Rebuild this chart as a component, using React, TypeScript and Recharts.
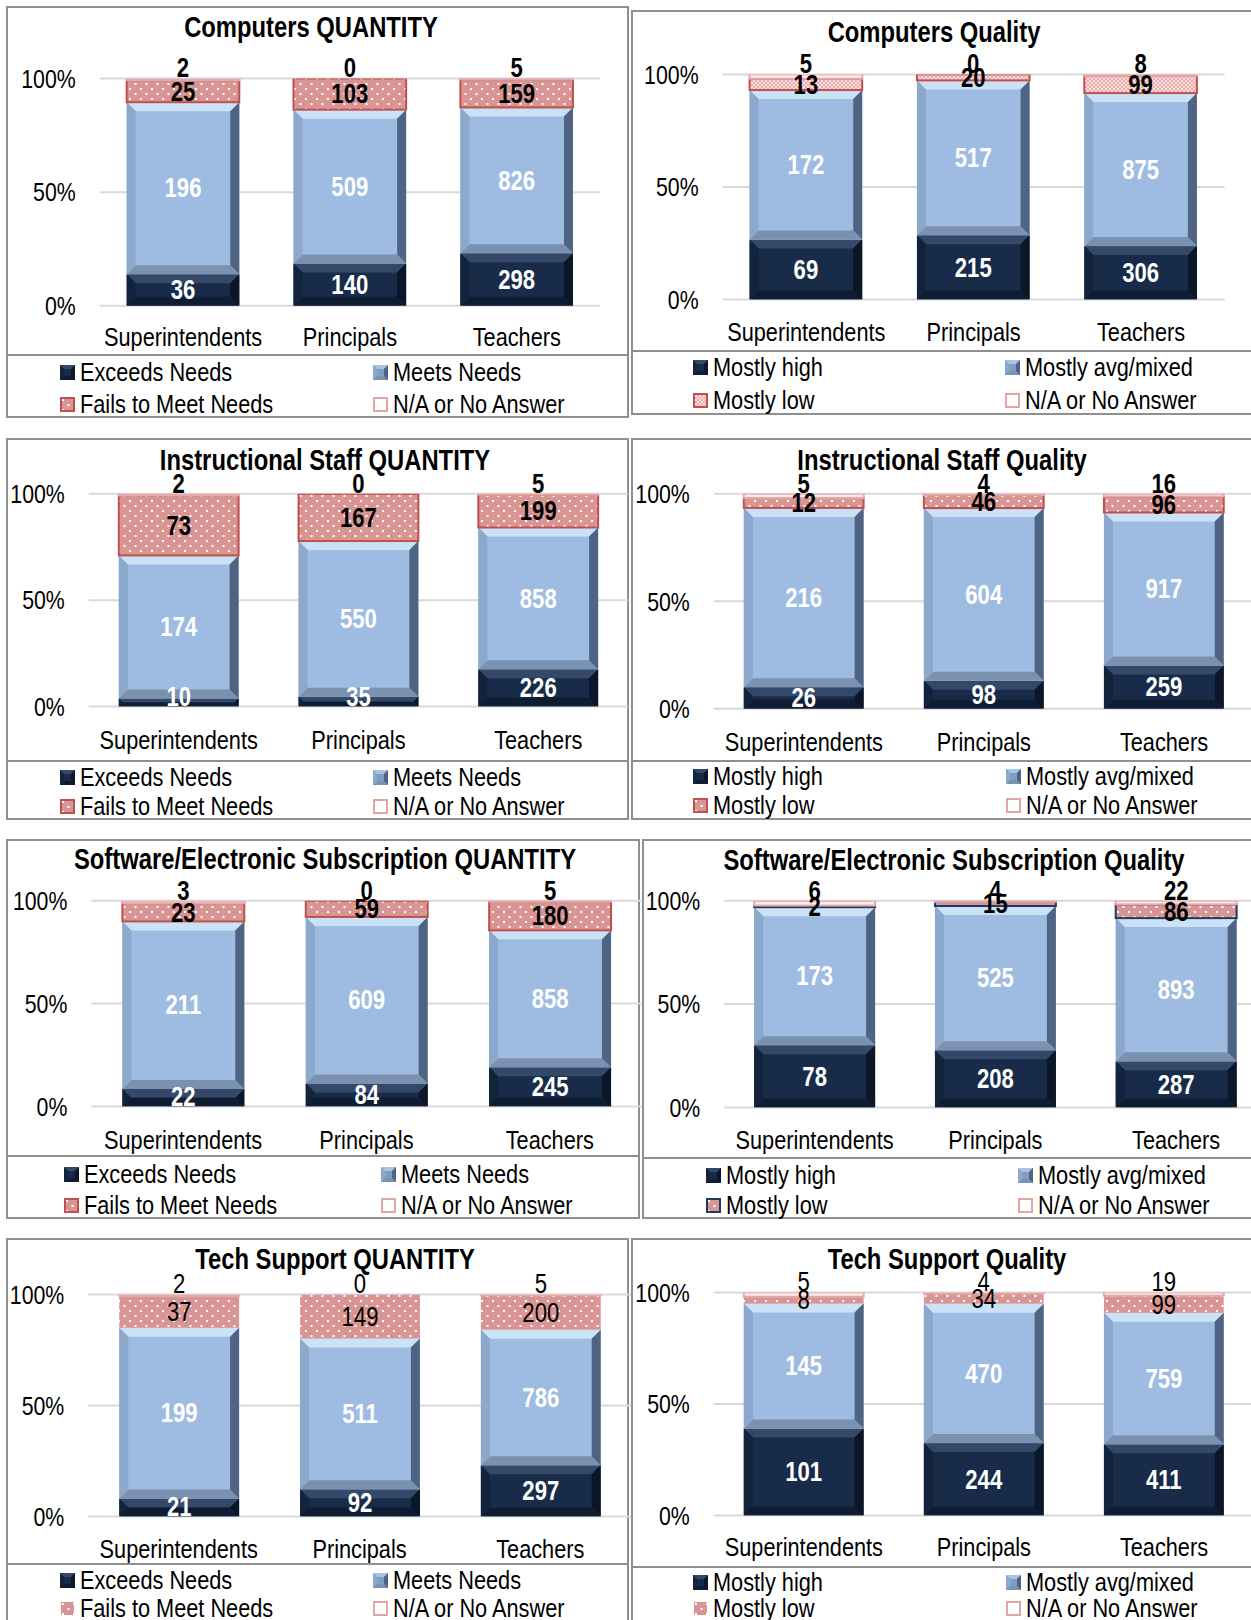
import React from "react";
import { BarChart, Bar, XAxis, YAxis, CartesianGrid, LabelList } from "recharts";

// no narrow font installed, so Liberation Sans is squeezed horizontally
const FONT = "'Liberation Sans', Arial, sans-serif";
const NARROW = 0.82;

const categories = ["Superintendents", "Principals", "Teachers"];
const quantityNames = ["Exceeds Needs", "Meets Needs", "Fails to Meet Needs", "N/A or No Answer"];
const qualityNames = ["Mostly high", "Mostly avg/mixed", "Mostly low", "N/A or No Answer"];
const percentTicks = [0, 50, 100];

// counts per group: [top rating, middle, low, n/a]
const computersQuantity = [[36, 196, 25, 2], [140, 509, 103, 0], [298, 826, 159, 5]];
const computersQuality = [[69, 172, 13, 5], [215, 517, 20, 0], [306, 875, 99, 8]];
const staffQuantity = [[10, 174, 73, 2], [35, 550, 167, 0], [226, 858, 199, 5]];
const staffQuality = [[26, 216, 12, 5], [98, 604, 46, 4], [259, 917, 96, 16]];
const softwareQuantity = [[22, 211, 23, 3], [84, 609, 59, 0], [245, 858, 180, 5]];
const softwareQuality = [[78, 173, 2, 6], [208, 525, 15, 4], [287, 893, 86, 22]];
const supportQuantity = [[21, 199, 37, 2], [92, 511, 149, 0], [297, 786, 200, 5]];
const supportQuality = [[101, 145, 8, 5], [244, 470, 34, 4], [411, 759, 99, 19]];

type Tone = { base: string; top: string; left: string; right: string; bottom: string };
const NAVY: Tone = { base: "#182c4a", top: "#34496a", left: "#12233b", right: "#0b1627", bottom: "#0f1d32" };
const BLUE: Tone = { base: "#9ebce2", top: "#cbe1f6", left: "#8ca8cd", right: "#4f6482", bottom: "#7a91b0" };

function toRows(counts: number[][]) {
  return categories.map((name, i) => {
    const c = counts[i];
    const total = c.reduce((a, b) => a + b, 0);
    return {
      name,
      high: (c[0] / total) * 100,
      mid: (c[1] / total) * 100,
      low: (c[2] / total) * 100,
      na: (c[3] / total) * 100,
    };
  });
}

function NarrowText({ x, y, anchor = "middle", size = 26, weight = 400, fill = "#000", children }: any) {
  return (
    <text transform={`translate(${x},${y}) scale(${NARROW},1)`} textAnchor={anchor}
      dominantBaseline="central" fontSize={size} fontWeight={weight} fill={fill} fontFamily={FONT}>
      {children}
    </text>
  );
}

function bevelShape(tone: Tone, maxB = 9) {
  return (p: any) => {
    const { x, y, width: w, height: h } = p;
    if (!(h > 0) || !(w > 0)) return <g />;
    const b = Math.min(maxB, h / 2, w / 2);
    const x2 = x + w;
    const y2 = y + h;
    return (
      <g>
        <rect x={x} y={y} width={w} height={h} fill={tone.base} />
        <polygon points={`${x},${y} ${x2},${y} ${x2 - b},${y + b} ${x + b},${y + b}`} fill={tone.top} />
        <polygon points={`${x},${y2} ${x2},${y2} ${x2 - b},${y2 - b} ${x + b},${y2 - b}`} fill={tone.bottom} />
        <polygon points={`${x},${y} ${x + b},${y + b} ${x + b},${y2 - b} ${x},${y2}`} fill={tone.left} />
        <polygon points={`${x2},${y} ${x2 - b},${y + b} ${x2 - b},${y2 - b} ${x2},${y2}`} fill={tone.right} />
      </g>
    );
  };
}

function flatShape(fill: string, stroke: string | null) {
  return (p: any) => {
    const { x, y, width: w, height: h } = p;
    if (!(h > 0) || !(w > 0)) return <g />;
    return (
      <rect x={x} y={y} width={w} height={h} fill={fill}
        stroke={stroke || "none"} strokeWidth={stroke ? 2 : 0} />
    );
  };
}

type PanelCfg = {
  title: string;
  counts: number[][];
  names: string[];
  box: { x: number; y: number; w: number; h: number; lh: number };
  plot: { top: number; bottom: number; left: number; right: number };
  titleX: number;
  titleY: number;
  catY: number;
  barSize: number;
  legendCols: number[];
  legendRows: number[];
  lowFill: string;
  lowStroke: string | null;
  boldTop: boolean;
};

const panels: PanelCfg[] = [
  {
    title: "Computers QUANTITY", counts: computersQuantity, names: quantityNames,
    box: { x: 6, y: 6, w: 623, h: 350, lh: 64 },
    plot: { top: 78.5, bottom: 305.8, left: 99.7, right: 600.2 },
    titleX: 311, titleY: 27, catY: 337, barSize: 112.6,
    legendCols: [54, 367], legendRows: [16.6, 48.6],
    lowFill: "url(#dotsWide)", lowStroke: "#c0504d", boldTop: true,
  },
  {
    title: "Computers Quality", counts: computersQuality, names: qualityNames,
    box: { x: 631, y: 10, w: 630, h: 342, lh: 65 },
    plot: { top: 74.4, bottom: 299.6, left: 722.6, right: 1224.7 },
    titleX: 934, titleY: 32, catY: 331.6, barSize: 112.6,
    legendCols: [62, 374], legendRows: [15.5, 48.5],
    lowFill: "url(#dotsFine)", lowStroke: "#c0504d", boldTop: true,
  },
  {
    title: "Instructional Staff QUANTITY", counts: staffQuantity, names: quantityNames,
    box: { x: 6, y: 438, w: 623, h: 324, lh: 60 },
    plot: { top: 493.8, bottom: 706.6, left: 88.8, right: 628.1 },
    titleX: 325, titleY: 459.7, catY: 739.7, barSize: 119.8,
    legendCols: [54, 367], legendRows: [15.5, 44.4],
    lowFill: "url(#dotsWide)", lowStroke: "#c0504d", boldTop: true,
  },
  {
    title: "Instructional Staff Quality", counts: staffQuality, names: qualityNames,
    box: { x: 631, y: 438, w: 630, h: 324, lh: 60 },
    plot: { top: 493.8, bottom: 708.7, left: 713.8, right: 1254 },
    titleX: 942, titleY: 459.7, catY: 741.7, barSize: 119.8,
    legendCols: [62, 375], legendRows: [14.5, 43.4],
    lowFill: "url(#dotsWide)", lowStroke: "#c0504d", boldTop: true,
  },
  {
    title: "Software/Electronic Subscription QUANTITY", counts: softwareQuantity, names: quantityNames,
    box: { x: 6, y: 839, w: 634, h: 318, lh: 64 },
    plot: { top: 900.8, bottom: 1106.4, left: 91.4, right: 641.5 },
    titleX: 325, titleY: 858.5, catY: 1139.4, barSize: 121.9,
    legendCols: [58, 375], legendRows: [17.6, 48.6],
    lowFill: "url(#dotsWide)", lowStroke: "#c0504d", boldTop: true,
  },
  {
    title: "Software/Electronic Subscription Quality", counts: softwareQuality, names: qualityNames,
    box: { x: 642, y: 839, w: 620, h: 320, lh: 62 },
    plot: { top: 900.8, bottom: 1107.4, left: 724.2, right: 1266.5 },
    titleX: 953.5, titleY: 859.5, catY: 1139.4, barSize: 120.9,
    legendCols: [63.6, 375.6], legendRows: [16.6, 46.6],
    lowFill: "url(#dotsWide)", lowStroke: "#1f3a60", boldTop: true,
  },
  {
    title: "Tech Support QUANTITY", counts: supportQuantity, names: quantityNames,
    box: { x: 6, y: 1238, w: 623, h: 327, lh: 70 },
    plot: { top: 1294.4, bottom: 1516.5, left: 88.3, right: 630.7 },
    titleX: 335, titleY: 1259.3, catY: 1548.5, barSize: 119.8,
    legendCols: [54, 367], legendRows: [15.6, 43.5],
    lowFill: "url(#dotsWide)", lowStroke: null, boldTop: false,
  },
  {
    title: "Tech Support Quality", counts: supportQuality, names: qualityNames,
    box: { x: 631, y: 1238, w: 630, h: 330, lh: 70 },
    plot: { top: 1292.4, bottom: 1515.5, left: 713.8, right: 1254 },
    titleX: 946.8, titleY: 1259.3, catY: 1546.4, barSize: 119.8,
    legendCols: [62, 375], legendRows: [14.4, 40.3],
    lowFill: "url(#dotsWide)", lowStroke: null, boldTop: false,
  },
];

function LegendIcon({ idx, cfg }: { idx: number; cfg: PanelCfg }) {
  const s = 15;
  let body: React.ReactNode;
  if (idx === 0) body = bevelShape(NAVY, 4)({ x: 0, y: 0, width: s, height: s });
  else if (idx === 1) body = bevelShape({ ...BLUE, base: "#7f9cc2", top: "#a9c3e3" }, 4)({ x: 0, y: 0, width: s, height: s });
  else if (idx === 2)
    body = <rect x={1} y={1} width={s - 2} height={s - 2} fill={cfg.lowFill} stroke={cfg.lowStroke || "none"} strokeWidth={2} />;
  else body = <rect x={1} y={1} width={s - 2} height={s - 2} fill="#fff" stroke="#e3a4a4" strokeWidth={2} />;
  return (
    <svg width={s} height={s} style={{ display: "block", flex: "none" }}>
      {body}
    </svg>
  );
}

function Panel({ cfg }: { cfg: PanelCfg }) {
  const { box, plot } = cfg;
  const data = toRows(cfg.counts);
  const chartW = plot.right - box.x;
  const top = plot.top - box.y;
  const plotBottom = plot.bottom - box.y;
  const xAxisH = box.h - plotBottom;
  const topWeight = cfg.boldTop ? 700 : 400;

  const centerLabel = (key: number, color: string, weight: number, clampBottom: boolean) => (p: any) => {
    const vb = p.viewBox || p;
    let cy = vb.y + vb.height / 2;
    if (clampBottom) cy = Math.min(cy, plotBottom - 10);
    return (
      <NarrowText x={vb.x + vb.width / 2} y={cy} size={27} weight={weight} fill={color}>
        {cfg.counts[p.index][key]}
      </NarrowText>
    );
  };

  const naLabel = (p: any) => {
    const vb = p.viewBox || p;
    return (
      <NarrowText x={vb.x + vb.width / 2} y={vb.y - 10.5} size={27} weight={topWeight}>
        {cfg.counts[p.index][3]}
      </NarrowText>
    );
  };

  return (
    <>
      <div style={{
        position: "absolute", left: box.x, top: box.y, width: box.w, height: box.h,
        border: "2px solid #8f8f8f", boxSizing: "border-box", background: "#fff",
      }} />
      <div style={{
        position: "absolute", left: box.x, top: box.y + box.h - 2, width: box.w, height: box.lh,
        border: "2px solid #8f8f8f", boxSizing: "border-box", background: "#fff",
      }} />
      <div style={{ position: "absolute", left: box.x, top: box.y }}>
        <BarChart width={chartW} height={box.h} data={data}
          margin={{ top, right: 0, left: 0, bottom: 0 }} style={{ overflow: "visible" }}>
          <CartesianGrid vertical={false} stroke="#d9d9d9" strokeWidth={2} />
          <YAxis type="number" domain={[0, 100]} ticks={percentTicks} allowDataOverflow
            axisLine={false} tickLine={false} tickSize={0} tickMargin={24} width={plot.left - box.x}
            tick={(p: any) => (
              <NarrowText x={p.x} y={p.y} anchor="end" size={26}>{`${p.payload.value}%`}</NarrowText>
            )} />
          <XAxis dataKey="name" axisLine={false} tickLine={false} tickSize={0} interval={0}
            tickMargin={cfg.catY - plot.bottom} height={xAxisH}
            tick={(p: any) => (
              <NarrowText x={p.x} y={p.y} size={26.5}>{p.payload.value}</NarrowText>
            )} />
          <Bar dataKey="high" stackId="s" barSize={cfg.barSize} isAnimationActive={false}
            shape={bevelShape(NAVY)}>
            <LabelList dataKey="high" content={centerLabel(0, "#fff", 700, true)} />
          </Bar>
          <Bar dataKey="mid" stackId="s" barSize={cfg.barSize} isAnimationActive={false}
            shape={bevelShape(BLUE)}>
            <LabelList dataKey="mid" content={centerLabel(1, "#fff", 700, false)} />
          </Bar>
          <Bar dataKey="low" stackId="s" barSize={cfg.barSize} isAnimationActive={false}
            shape={flatShape(cfg.lowFill, cfg.lowStroke)}>
            <LabelList dataKey="low" content={centerLabel(2, "#000", topWeight, false)} />
          </Bar>
          <Bar dataKey="na" stackId="s" barSize={cfg.barSize} isAnimationActive={false}
            shape={flatShape("#fdeeee", "#e6a9a9")}>
            <LabelList dataKey="na" content={naLabel} />
          </Bar>
        </BarChart>
      </div>
      <div style={{
        position: "absolute", left: cfg.titleX - 400, width: 800, top: cfg.titleY - 17,
        height: 34, lineHeight: "34px", textAlign: "center", fontSize: 29, fontWeight: 700,
        fontFamily: FONT, color: "#000", transform: `scaleX(${NARROW})`, transformOrigin: "center",
      }}>
        {cfg.title}
      </div>
      {cfg.names.map((name, i) => {
        const col = i % 2;
        const row = Math.floor(i / 2);
        return (
          <div key={name} style={{
            position: "absolute", left: box.x + cfg.legendCols[col],
            top: box.y + box.h + cfg.legendRows[row] - 15, height: 30,
            display: "flex", alignItems: "center", gap: 5, fontSize: 26.5,
            fontFamily: FONT, color: "#000", whiteSpace: "nowrap",
          }}>
            <LegendIcon idx={i} cfg={cfg} />
            <span style={{ display: "inline-block", transform: `scaleX(${NARROW})`, transformOrigin: "left center" }}>
              {name}
            </span>
          </div>
        );
      })}
    </>
  );
}

export default function App() {
  return (
    <div style={{
      position: "absolute", left: 0, top: 0, width: 1251, height: 1620,
      overflow: "hidden", background: "#fff",
    }}>
      <svg width={0} height={0} style={{ position: "absolute" }}>
        <defs>
          <pattern id="dotsWide" width={11} height={10} patternUnits="userSpaceOnUse">
            <rect width={11} height={10} fill="#d99594" />
            <rect x={2} y={2} width={2} height={2} fill="#fff" />
            <rect x={7.5} y={7} width={2} height={2} fill="#fff" />
          </pattern>
          <pattern id="dotsFine" width={4} height={4} patternUnits="userSpaceOnUse">
            <rect width={4} height={4} fill="#eaa9a8" />
            <rect x={0} y={0} width={2} height={2} fill="#fbe3e3" />
            <rect x={2} y={2} width={2} height={2} fill="#fbe3e3" />
          </pattern>
        </defs>
      </svg>
      {panels.map((p) => (
        <Panel key={p.title} cfg={p} />
      ))}
    </div>
  );
}
